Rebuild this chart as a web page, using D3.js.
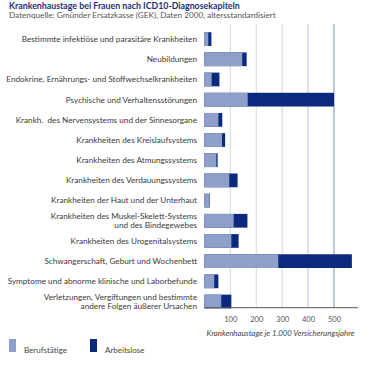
<!DOCTYPE html>
<html><head><meta charset="utf-8">
<script src="https://cdn.jsdelivr.net/npm/d3@7"></script>
<style>body{margin:0;background:#fff}svg{display:block}text{font-family:Lato,"Open Sans",sans-serif;white-space:pre}</style>
</head><body>
<script>
const categories = [
  ["Bestimmte infektiöse und parasitäre Krankheiten"],
  ["Neubildungen"],
  ["Endokrine, Ernährungs- und Stoffwechselkrankheiten"],
  ["Psychische und Verhaltensstörungen"],
  ["Krankh.  des Nervensystems und der Sinnesorgane"],
  ["Krankheiten des Kreislaufsystems"],
  ["Krankheiten des Atmungssystems"],
  ["Krankheiten des Verdauungssystems"],
  ["Krankheiten der Haut und der Unterhaut"],
  ["Krankheiten des Muskel-Skelett-Systems", "und des Bindegewebes"],
  ["Krankheiten des Urogenitalsystems"],
  ["Schwangerschaft, Geburt und Wochenbett"],
  ["Symptome und abnorme klinische und Laborbefunde"],
  ["Verletzungen, Vergiftungen und bestimmte", "andere Folgen äußerer Ursachen"]
];
const berufstaetige = [15, 146, 28, 167, 54, 68, 46, 96, 20, 113, 104, 285, 38, 65];
const arbeitslose   = [27, 163, 58, 500, 69, 80, 51, 128, 21, 166, 132, 569, 54, 104];
const ticks = [100, 200, 300, 400, 500];
const seriesNames = ["Berufstätige", "Arbeitslose"];
const colors = ["#8e9fca", "#0b2a7e"];

const W = 377, H = 369;
const svg = d3.select("body").append("svg").attr("width", W).attr("height", H);

svg.append("text").attr("x", 9).attr("y", 8.5).attr("font-size", 8.8).attr("font-weight", "bold")
  .attr("fill", "#1b2f78").text("Krankenhaustage bei Frauen nach ICD10-Diagnosekapiteln");
svg.append("text").attr("x", 9).attr("y", 18).attr("font-size", 8.2)
  .attr("fill", "#555").text("Datenquelle: Gmünder Ersatzkasse (GEK), Daten 2000, altersstandardisiert");

const x = d3.scaleLinear().domain([0, 500]).range([204.4, 334]);
const y = d3.scaleBand().domain(d3.range(categories.length)).range([29, 311.6]).paddingInner(0.32).paddingOuter(0.16);

// gridlines
const gridColors = {100: "#d4d7dc", 200: "#d4d7dc", 300: "#d4d7dc", 400: "#b9c4d8", 500: "#7f8fb0"};
svg.append("g").selectAll("line").data(ticks).join("line")
  .attr("x1", d => x(d)).attr("x2", d => x(d)).attr("y1", 24).attr("y2", 307.7)
  .attr("stroke", d => gridColors[d]).attr("stroke-width", 1);

// bars
const g = svg.append("g");
g.selectAll("rect.a").data(arbeitslose).join("rect").attr("class", "a")
  .attr("x", x(0)).attr("y", (d, i) => y(i)).attr("height", y.bandwidth())
  .attr("width", d => x(d) - x(0)).attr("fill", colors[1]);
g.selectAll("rect.b").data(berufstaetige).join("rect").attr("class", "b")
  .attr("x", x(0)).attr("y", (d, i) => y(i)).attr("height", y.bandwidth())
  .attr("width", d => x(d) - x(0)).attr("fill", colors[0]);

// axis
const axis = d3.axisBottom(x).tickValues(ticks).tickSize(0).tickPadding(9);
const ax = svg.append("g").attr("transform", "translate(0,307.7)").call(axis);
ax.select(".domain").attr("stroke", "#555").attr("d", `M${x(0)},0H358`);
ax.selectAll("text").attr("font-size", 7.6).attr("fill", "#555").attr("font-family", "Lato,sans-serif");

svg.append("text").attr("x", 280.5).attr("y", 336).attr("text-anchor", "middle")
  .attr("font-size", 7.8).attr("font-style", "italic").attr("fill", "#444")
  .text("Krankenhaustage je 1.000 Versicherungsjahre");

// category labels
const lab = svg.append("g").selectAll("text").data(categories).join("text")
  .attr("text-anchor", "end").attr("font-size", 8.2).attr("fill", "#3a3a3a")
  .attr("x", 197)
  .attr("y", (d, i) => y(i) + y.bandwidth() / 2 - (d.length - 1) * 4.8 + 2.9);
lab.selectAll("tspan").data(d => d).join("tspan")
  .attr("x", 197).attr("dy", (d, j) => j === 0 ? 0 : 9.6).text(d => d);

// legend
const lg = svg.append("g");
const lx = [9, 90];
seriesNames.forEach((s, i) => {
  lg.append("rect").attr("x", lx[i]).attr("y", 339).attr("width", 7).attr("height", 13).attr("fill", colors[i]);
  lg.append("text").attr("x", lx[i] + 15).attr("y", 353).attr("font-size", 8).attr("fill", "#444").text(s);
});
</script>
</body></html>
